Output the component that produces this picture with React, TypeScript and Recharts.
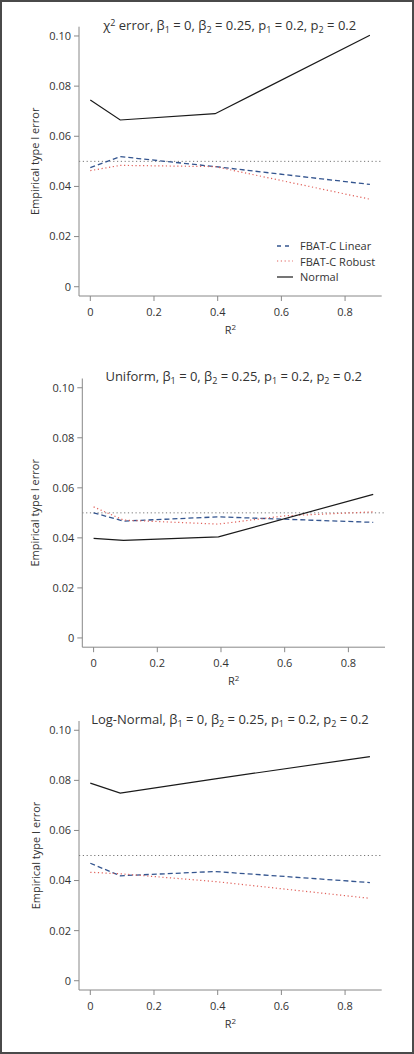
import React from 'react';
import { LineChart, Line, XAxis, YAxis, ReferenceLine, Legend } from 'recharts';

const xValues = [0, 0.094, 0.392, 0.878];
const xValuesUniRobust = [0, 0.094, 0.392, 0.6, 0.878];

const chiLinear = [0.0475, 0.0519, 0.0479, 0.0408];
const chiRobust = [0.0463, 0.0484, 0.0479, 0.0349];
const chiNormal = [0.0745, 0.0665, 0.069, 0.1003];

const uniLinear = [0.05, 0.0467, 0.0484, 0.0462];
const uniRobust = [0.0524, 0.0471, 0.0455, 0.0488, 0.0504];
const uniNormal = [0.0398, 0.039, 0.0404, 0.0574];

const logLinear = [0.0469, 0.0419, 0.0436, 0.0392];
const logRobust = [0.0433, 0.0427, 0.0396, 0.0329];
const logNormal = [0.0789, 0.0749, 0.0806, 0.0895];

const xTicks = [0, 0.2, 0.4, 0.6, 0.8];
const yTicks = [0, 0.02, 0.04, 0.06, 0.08, 0.1];
const seriesNames = ['FBAT-C Linear', 'FBAT-C Robust', 'Normal'];
const nominalLevel = 0.05;

const FONT = '"Open Sans", "Noto Sans", sans-serif';
const TEXT = '#333';
const AXIS = '#888';
const BLUE = '#34558f';
const RED = '#e0605a';
const BLACK = '#1a1a1a';

const styles = [
  { stroke: BLUE, dash: '5 3', width: 1.3 },
  { stroke: RED, dash: '1.2 2.6', width: 1.2 },
  { stroke: BLACK, dash: undefined as string | undefined, width: 1.2 },
];

function pts(xs: number[], ys: number[]) {
  return xs.map((x, i) => ({ x, y: ys[i] }));
}

const renderLegend = () => (
  <div style={{ fontFamily: FONT, fontSize: 11, color: TEXT }}>
    {seriesNames.map((n, i) => (
      <div key={n} style={{ display: 'flex', alignItems: 'center', height: 15.5 }}>
        <svg width={23} height={10} style={{ display: 'block' }}>
          <line x1={0} x2={16} y1={5} y2={5} stroke={styles[i].stroke} strokeWidth={styles[i].width} strokeDasharray={i === 0 ? '4 4' : styles[i].dash} />
        </svg>
        <span>{n}</span>
      </div>
    ))}
  </div>
);

const yLabel = (props: any) => {
  const vb = props.viewBox;
  const cx = vb.x + 35;
  const cy = vb.y + vb.height / 2;
  return (
    <text x={cx} y={cy} transform={`rotate(-90 ${cx} ${cy})`} textAnchor="middle" dominantBaseline="central" fill={TEXT} fontSize={11} fontFamily={FONT}>
      Empirical type I error
    </text>
  );
};

const xLabel = (props: any) => {
  const vb = props.viewBox;
  return (
    <text x={vb.x + vb.width / 2} y={vb.y + 38} textAnchor="middle" fill={TEXT} fontSize={11} fontFamily={FONT}>
      R<tspan dy={-4} fontSize={8}>2</tspan>
    </text>
  );
};

type PanelProps = {
  series: { x: number; y: number }[][];
  top: number;
  height: number;
  margin: { top: number; right: number; bottom: number; left: number };
  yWidth: number;
  legend?: boolean;
};

function Panel({ series, top, height, margin, yWidth, legend }: PanelProps) {
  return (
    <div style={{ position: 'absolute', left: 0, top }}>
      <LineChart width={414} height={height} margin={margin}>
        <XAxis
          dataKey="x"
          type="number"
          domain={[-0.0355, 0.915]}
          ticks={xTicks}
          tickFormatter={(v: number) => (v === 0 ? '0' : String(v))}
          stroke={AXIS}
          tickSize={5}
          tickMargin={7}
          height={30}
          allowDuplicatedCategory={false}
          tick={{ fill: TEXT, fontSize: 11, fontFamily: FONT }}
          label={xLabel}
        />
        <YAxis
          type="number"
          domain={[-0.0037, 0.1037]}
          ticks={yTicks}
          tickFormatter={(v: number) => (v === 0 ? '0' : v.toFixed(2))}
          stroke={AXIS}
          tickSize={5}
          tickMargin={3}
          width={yWidth}
          tick={{ fill: TEXT, fontSize: 11, fontFamily: FONT }}
          label={yLabel}
        />
        <ReferenceLine y={nominalLevel} stroke="#777" strokeDasharray="1.2 2.6" strokeWidth={1} />
        {series.map((d, i) => (
          <Line
            key={seriesNames[i]}
            data={d}
            dataKey="y"
            name={seriesNames[i]}
            type="linear"
            stroke={styles[i].stroke}
            strokeDasharray={styles[i].dash}
            strokeWidth={styles[i].width}
            dot={false}
            isAnimationActive={false}
          />
        ))}
        {legend && (
          <Legend
            layout="vertical"
            align="center"
            verticalAlign="middle"
            content={renderLegend}
            wrapperStyle={{ left: 277, top: 238, width: 130 }}
          />
        )}
      </LineChart>
    </div>
  );
}

const SUB = 9;
const Title = ({ x, y, lead }: { x: number; y: number; lead: React.ReactNode }) => (
  <text x={x} y={y} textAnchor="middle" fill={TEXT} fontSize={13} fontFamily={FONT}>
    {lead}, β<tspan dy={3} fontSize={SUB}>1</tspan>
    <tspan dy={-3}> = 0, β</tspan>
    <tspan dy={3} fontSize={SUB}>2</tspan>
    <tspan dy={-3}> = 0.25, p</tspan>
    <tspan dy={3} fontSize={SUB}>1</tspan>
    <tspan dy={-3}> = 0.2, p</tspan>
    <tspan dy={3} fontSize={SUB}>2</tspan>
    <tspan dy={-3}> = 0.2</tspan>
  </text>
);

export default function App() {
  return (
    <div style={{ position: 'absolute', left: 0, top: 0, width: 414, height: 1054, background: '#fff', overflow: 'hidden' }}>
      <Panel
        series={[pts(xValues, chiLinear), pts(xValues, chiRobust), pts(xValues, chiNormal)]}
        top={0}
        height={340}
        margin={{ top: 26.7, right: 32.3, bottom: 14, left: 0 }}
        yWidth={79}
        legend
      />
      <Panel
        series={[pts(xValues, uniLinear), pts(xValuesUniRobust, uniRobust), pts(xValues, uniNormal)]}
        top={340}
        height={350}
        margin={{ top: 38.5, right: 29, bottom: 12.8, left: 0 }}
        yWidth={82.3}
      />
      <Panel
        series={[pts(xValues, logLinear), pts(xValues, logRobust), pts(xValues, logNormal)]}
        top={690}
        height={364}
        margin={{ top: 31, right: 32.3, bottom: 34, left: 0 }}
        yWidth={79}
      />
      <svg width={414} height={1054} style={{ position: 'absolute', left: 0, top: 0, pointerEvents: 'none' }}>
        <Title x={229.7} y={30} lead={<tspan>χ<tspan dy={-4.5} fontSize={SUB}>2</tspan><tspan dy={4.5}> error</tspan></tspan>} />
        <Title x={233.7} y={380.7} lead="Uniform" />
        <Title x={230} y={724} lead="Log-Normal" />
      </svg>
      <div style={{ position: 'absolute', left: 0, top: 0, width: 414, height: 1054, boxSizing: 'border-box', border: '2px solid #4a4a4a', pointerEvents: 'none' }} />
    </div>
  );
}
